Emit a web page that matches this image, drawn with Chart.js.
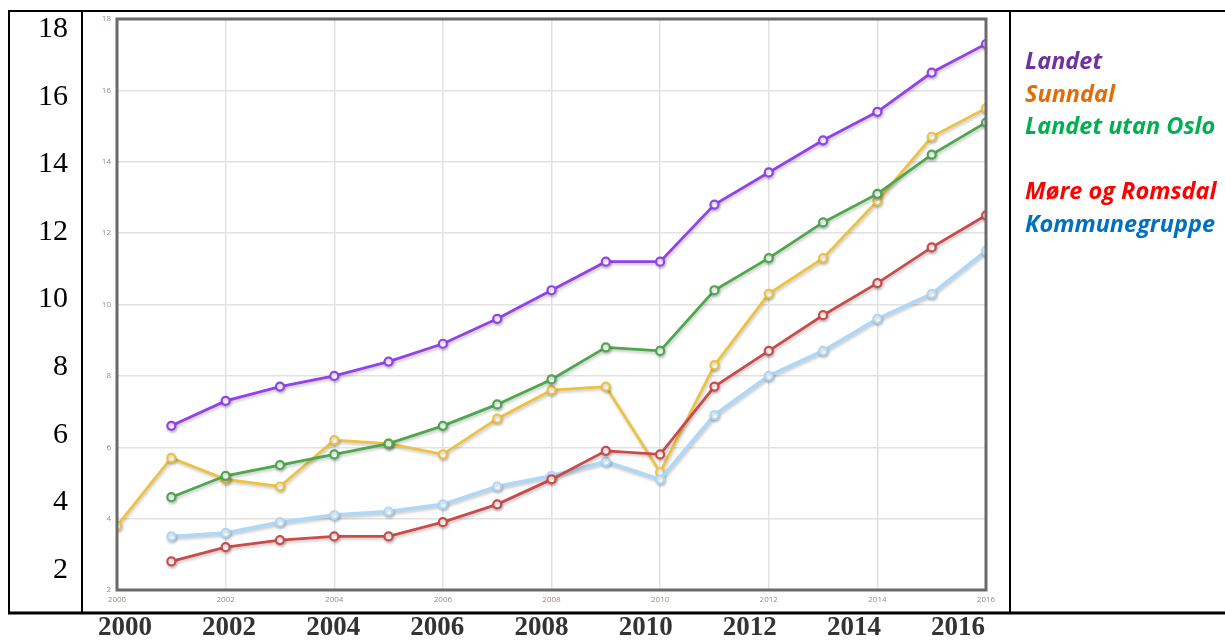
<!DOCTYPE html>
<html>
<head>
<meta charset="utf-8">
<script src="https://cdn.jsdelivr.net/npm/chart.js@4"></script>
<style>
  body { margin: 0; background: #fff; }
  #wrap { position: relative; width: 1225px; height: 642px; }
  #legend {
    position: absolute; left: 1025px; top: 44px;
    font-family: 'Open Sans', sans-serif; font-weight: bold; font-style: italic;
    font-size: 23.5px; line-height: 32.5px; white-space: nowrap;
  }
</style>
</head>
<body>
<div id="wrap">
  <canvas id="chart" width="1225" height="642"></canvas>
  <div id="legend"></div>
</div>
<script>
// Years on the inner chart
const years = [2000, 2001, 2002, 2003, 2004, 2005, 2006, 2007, 2008, 2009, 2010, 2011, 2012, 2013, 2014, 2015, 2016];

// Series (null = no value that year)
const landet        = [null, 6.6, 7.3, 7.7, 8.0, 8.4, 8.9, 9.6, 10.4, 11.2, 11.2, 12.8, 13.7, 14.6, 15.4, 16.5, 17.3];
const landetUtanOslo = [null, 4.6, 5.2, 5.5, 5.8, 6.1, 6.6, 7.2, 7.9, 8.8, 8.7, 10.4, 11.3, 12.3, 13.1, 14.2, 15.1];
const moreRomsdal   = [null, 2.8, 3.2, 3.4, 3.5, 3.5, 3.9, 4.4, 5.1, 5.9, 5.8, 7.7, 8.7, 9.7, 10.6, 11.6, 12.5];
const kommunegruppe = [null, 3.5, 3.6, 3.9, 4.1, 4.2, 4.4, 4.9, 5.2, 5.6, 5.1, 6.9, 8.0, 8.7, 9.6, 10.3, 11.5];
const sunndal       = [3.8, 5.7, 5.1, 4.9, 6.2, 6.1, 5.8, 6.8, 7.6, 7.7, 5.3, 8.3, 10.3, 11.3, 12.9, 14.7, 15.5];

// Big labels in the surrounding table
const outerYTicks = [2, 4, 6, 8, 10, 12, 14, 16, 18];
const outerXTicks = [2000, 2002, 2004, 2006, 2008, 2010, 2012, 2014, 2016];

// Legend (text colours differ from line colours in the original)
const legendNames  = ['Landet', 'Sunndal', 'Landet utan Oslo', '', 'Møre og Romsdal', 'Kommunegruppe'];
const legendColors = ['#7030a0', '#e36c09', '#00b050', '', '#ff0000', '#0070c0'];

// build legend
const legendEl = document.getElementById('legend');
legendNames.forEach((name, i) => {
    const d = document.createElement('div');
    d.textContent = name || '\u00a0';
    d.style.color = legendColors[i];
    legendEl.appendChild(d);
});

function toPoints(vals) {
    return years.map((y, i) => ({ x: y, y: vals[i] }));
}

function lineSet(label, vals, color, width) {
    return {
        label: label,
        data: toPoints(vals),
        borderColor: color,
        backgroundColor: '#ffffff',
        pointBackgroundColor: '#ffffff',
        pointBorderColor: color,
        pointBorderWidth: 2.2,
        pointRadius: 4,
        borderWidth: width || 2.8,
        tension: 0,
        xAxisID: 'x',
        yAxisID: 'y'
    };
}

// flot-like drop shadow under lines
const shadowPlugin = {
    id: 'shadow',
    beforeDatasetDraw(chart) {
        const c = chart.ctx;
        c.save();
        c.shadowColor = 'rgba(0,0,0,0.22)';
        c.shadowBlur = 3;
        c.shadowOffsetX = 1;
        c.shadowOffsetY = 2;
    },
    afterDatasetDraw(chart) {
        chart.ctx.restore();
    }
};

// plot box + black table lines around everything
const framePlugin = {
    id: 'frame',
    afterDatasetsDraw(chart) {
        const c = chart.ctx;
        const a = chart.chartArea;
        c.save();
        c.strokeStyle = '#6a6a6a';
        c.lineWidth = 3;
        c.strokeRect(a.left, a.top, a.right - a.left, a.bottom - a.top);
        c.restore();
    },
    afterDraw(chart) {
        const c = chart.ctx;
        const sy2 = chart.scales.y2;
        const sx2 = chart.scales.x2;
        c.save();
        c.strokeStyle = '#000';
        c.lineWidth = 2;
        c.beginPath();
        c.moveTo(8, 11); c.lineTo(1225, 11);
        c.moveTo(9, 10); c.lineTo(9, sx2.top + 2);
        c.moveTo(sy2.right, 10); c.lineTo(sy2.right, sx2.top + 2);
        c.moveTo(1010, 10); c.lineTo(1010, sx2.top + 2);
        c.stroke();
        c.lineWidth = 3;
        c.beginPath();
        c.moveTo(8, sx2.top + 1); c.lineTo(1225, sx2.top + 1);
        c.stroke();
        c.restore();
    }
};

// keep axis label overhang from pushing the plot area around
function noOverhang(s) {
    s.paddingTop = 0;
    s.paddingBottom = 0;
    s.paddingLeft = 0;
    s.paddingRight = 0;
}

const smallTick = { family: "'Open Sans', sans-serif", size: 8 };

new Chart(document.getElementById('chart'), {
    type: 'line',
    data: {
        datasets: [
            lineSet('Landet', landet, '#9440ed'),
            lineSet('Landet utan Oslo', landetUtanOslo, '#4da74d'),
            lineSet('Møre og Romsdal', moreRomsdal, '#cb4b4b'),
            lineSet('Kommunegruppe', kommunegruppe, '#afd8f8', 3.5),
            lineSet('Sunndal', sunndal, '#edc240')
        ]
    },
    options: {
        responsive: false,
        animation: false,
        layout: { padding: { top: 19, right: 239, left: 0, bottom: 0 } },
        plugins: {
            legend: { display: false },
            tooltip: { enabled: false }
        },
        scales: {
            x: {
                type: 'linear',
                position: 'bottom',
                weight: 0,
                min: 2000,
                max: 2016,
                grid: { color: '#e2e2e2', lineWidth: 1.5, drawTicks: false },
                border: { display: false },
                ticks: {
                    stepSize: 2,
                    padding: 5,
                    color: '#978a82',
                    font: smallTick,
                    maxRotation: 0,
                    callback: v => String(v)
                },
                afterFit(s) { s.height = 22; noOverhang(s); }
            },
            x2: {
                type: 'linear',
                position: 'bottom',
                weight: 10,
                min: 1999.847,
                max: 2016.537,
                grid: { display: false, drawTicks: false },
                border: { display: false },
                afterBuildTicks(s) { s.ticks = outerXTicks.map(v => ({ value: v })); },
                ticks: {
                    padding: 0,
                    color: '#333333',
                    font: { family: "'Liberation Serif', 'Times New Roman', serif", size: 27, weight: 'bold' },
                    maxRotation: 0,
                    autoSkip: false,
                    callback: v => String(v)
                },
                afterFit(s) { s.height = 30; noOverhang(s); }
            },
            y: {
                type: 'linear',
                position: 'left',
                weight: 0,
                min: 2,
                max: 18,
                grid: { color: '#e2e2e2', lineWidth: 1.5, drawTicks: false },
                border: { display: false },
                ticks: {
                    stepSize: 2,
                    padding: 6,
                    color: '#978a82',
                    font: smallTick
                },
                afterFit(s) { s.width = 35; noOverhang(s); }
            },
            y2: {
                type: 'linear',
                position: 'left',
                weight: 10,
                min: 1.408,
                max: 18.296,
                grid: { display: false, drawTicks: false },
                border: { display: false },
                afterBuildTicks(s) { s.ticks = outerYTicks.map(v => ({ value: v })); },
                ticks: {
                    padding: 14,
                    color: '#000000',
                    autoSkip: false,
                    font: { family: "'Liberation Serif', 'Times New Roman', serif", size: 30 }
                },
                afterFit(s) { s.width = 82; noOverhang(s); }
            }
        }
    },
    plugins: [shadowPlugin, framePlugin]
});
</script>
</body>
</html>
